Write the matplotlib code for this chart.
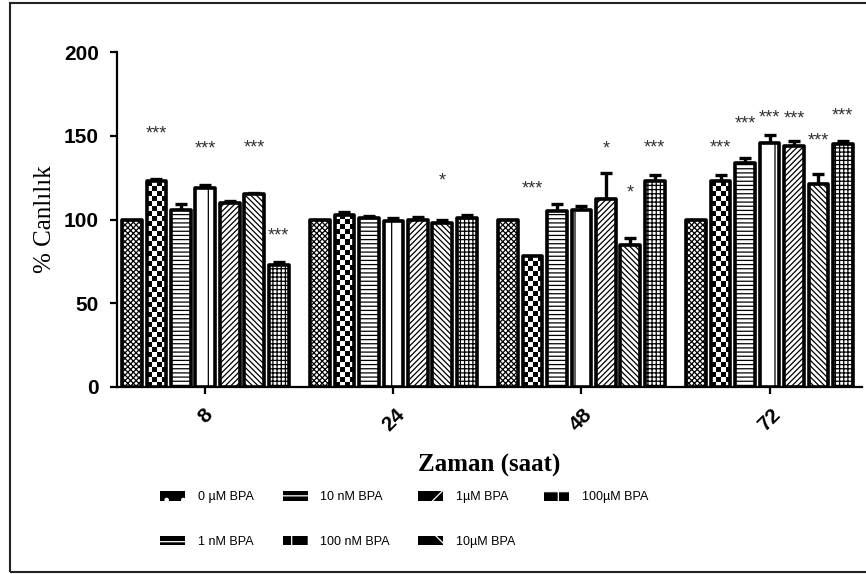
import numpy as np
import matplotlib.pyplot as plt
from matplotlib.patches import Rectangle, Patch

# data
times = ["8", "24", "48", "72"]
doses = ["0 µM BPA", "1 nM BPA", "10 nM BPA", "100 nM BPA",
         "1µM BPA", "10µM BPA", "100µM BPA"]

# mean viability (%) per dose, one value per time point
v_0uM = [100, 100, 100, 100]
v_1nM = [123, 103, 78, 123]
v_10nM = [106, 101, 105, 134]
v_100nM = [119, 99, 106, 146]
v_1uM = [110, 100, 112, 144]
v_10uM = [115, 98, 85, 121]
v_100uM = [73, 101, 123, 145]

# upper error bars (SEM)
e_0uM = [0, 0, 0, 0]
e_1nM = [1.5, 1.5, 0, 3.5]
e_10nM = [3, 1, 4, 3]
e_100nM = [1.5, 2, 2, 4.5]
e_1uM = [1, 1.5, 16, 3]
e_10uM = [1, 1.5, 4, 6]
e_100uM = [1.5, 1.5, 3.5, 2]

values = [v_0uM, v_1nM, v_10nM, v_100nM, v_1uM, v_10uM, v_100uM]
errors = [e_0uM, e_1nM, e_10nM, e_100nM, e_1uM, e_10uM, e_100uM]

# significance marks: (time index, dose index, label, height)
stars = [
    (0, 1, "***", 151), (0, 3, "***", 142), (0, 5, "***", 143), (0, 6, "***", 90),
    (1, 5, "*", 123),
    (2, 1, "***", 118), (2, 4, "*", 142), (2, 5, "*", 116), (2, 6, "***", 143),
    (3, 1, "***", 143), (3, 2, "***", 157), (3, 3, "***", 161),
    (3, 4, "***", 160), (3, 5, "***", 147), (3, 6, "***", 162),
]

hatches = ["xxxxxx", None, "----", "|", "//////", "\\\\\\\\\\\\", "++++"]
legend_hatches = [".", "-", "--", "|", "/", "\\", "+"]

plt.rcParams["hatch.linewidth"] = 0.9

fig = plt.figure(figsize=(8.66, 5.74), dpi=100)
ax = fig.add_axes([0.135, 0.326, 0.86, 0.583])

# frame around the whole figure
fig.patches.append(Rectangle((10 / 866, 2 / 574), 1.2, 569 / 574,
                             transform=fig.transFigure, fill=False,
                             edgecolor="#222222", linewidth=1.5))

x = np.arange(len(times))
slot = 0.13
width = 0.105
for i, dose in enumerate(doses):
    pos = x + (i - 3) * slot
    err = np.array(errors[i])
    bars = ax.bar(pos, values[i], width, facecolor="white" if i != 1 else "none",
                  edgecolor="black", linewidth=2.6, hatch=hatches[i],
                  joinstyle="round", zorder=3)
    if err.any():
        ax.errorbar(pos[err > 0], np.array(values[i])[err > 0],
                    yerr=[np.zeros((err > 0).sum()), err[err > 0]],
                    fmt="none", ecolor="black", elinewidth=2.4, capsize=4,
                    capthick=2.4, zorder=2)
    if i == 1:
        # big checkerboard fill
        for b in bars:
            h = b.get_height()
            nrow = max(int(round(h / 3.0)), 1)
            cb = (np.indices((nrow, 4)).sum(axis=0) % 2).astype(float)
            im = ax.imshow(cb, cmap="gray", interpolation="nearest", aspect="auto",
                           extent=(b.get_x(), b.get_x() + b.get_width(), 0, h),
                           origin="lower", zorder=2.5)
            im.set_clip_path(b)

for t, d, lab, y in stars:
    ax.text(x[t] + (d - 3) * slot, y, lab, ha="center", va="center",
            fontsize=13, color="#333333", family="Liberation Sans")

ax.set_xlim(-0.47, 3.49)
ax.set_ylim(0, 200)
ax.set_yticks([0, 50, 100, 150, 200])
ax.set_xticks(x)
ax.set_xticklabels(times, rotation=45, ha="center")
for lab in ax.get_xticklabels() + ax.get_yticklabels():
    lab.set_fontfamily("Liberation Sans")
    lab.set_fontweight("bold")
    lab.set_fontsize(15)

ax.spines["top"].set_visible(False)
ax.spines["right"].set_visible(False)
ax.spines["left"].set_linewidth(1.6)
ax.spines["bottom"].set_linewidth(1.6)
ax.tick_params(axis="both", width=1.6, length=5, direction="out")
ax.tick_params(axis="y", pad=8)
ax.tick_params(axis="x", pad=8)

ax.set_ylabel("% Canlılık", family="Liberation Serif", fontsize=18, labelpad=6)
ax.set_xlabel("Zaman (saat)", family="Liberation Serif", fontsize=18,
              fontweight="bold", labelpad=14)

# legend swatches: black boxes with a fine white pattern
handles = [Patch(facecolor="black", edgecolor="white", linewidth=0, hatch=h)
           for h in legend_hatches]

leg = fig.legend(handles, doses, ncol=4, loc="upper left",
                 bbox_to_anchor=(0.178, 0.155), frameon=False,
                 prop={"family": "Liberation Sans", "size": 9},
                 handlelength=2.0, handleheight=0.8, columnspacing=2.3,
                 labelspacing=2.6, handletextpad=1.0, borderpad=0)

fig.savefig("out.png", dpi=100)
